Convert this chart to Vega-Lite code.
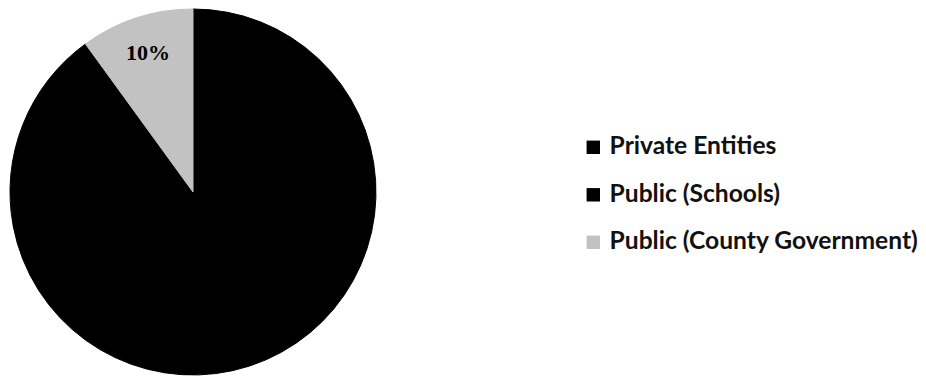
{
  "$schema": "https://vega.github.io/schema/vega-lite/v6.json",
  "width": 386,
  "height": 374,
  "autosize": {"type": "none"},
  "padding": {"left": 0, "top": 5, "right": 540, "bottom": 0},
  "background": "white",
  "data": {
    "values": [
      {"category": "Private Entities", "share": 72, "label": ""},
      {"category": "Public (Schools)", "share": 18, "label": ""},
      {"category": "Public (County Government)", "share": 10, "label": "10%"}
    ]
  },
  "encoding": {
    "theta": {"field": "share", "type": "quantitative", "stack": true},
    "order": {"field": "share", "type": "quantitative", "sort": "descending"}
  },
  "layer": [
    {
      "mark": {"type": "arc", "outerRadius": 183, "strokeWidth": 1},
      "encoding": {
        "stroke": {
          "field": "category",
          "type": "nominal",
          "scale": {
            "domain": ["Private Entities", "Public (Schools)", "Public (County Government)"],
            "range": ["#000000", "#000000", "#c2c2c2"]
          },
          "legend": null
        },
        "color": {
          "field": "category",
          "type": "nominal",
          "sort": ["Private Entities", "Public (Schools)", "Public (County Government)"],
          "scale": {
            "domain": ["Private Entities", "Public (Schools)", "Public (County Government)"],
            "range": ["#000000", "#000000", "#c2c2c2"]
          },
          "legend": {
            "title": null,
            "orient": "none",
            "legendX": 581,
            "legendY": 130,
            "padding": 0,
            "symbolType": "square",
            "symbolSize": 180,
            "symbolStrokeWidth": 0,
            "labelFont": "Lato",
            "labelFontWeight": "bold",
            "labelFontSize": 24.6,
            "labelColor": "#111111",
            "labelOffset": 4,
            "labelLimit": 400,
            "rowPadding": 22.5
          }
        }
      }
    },
    {
      "mark": {"type": "text", "radius": 146, "font": "Liberation Serif", "fontWeight": "bold", "fontSize": 22, "color": "#000000"},
      "encoding": {"text": {"field": "label", "type": "nominal"}}
    }
  ],
  "config": {"view": {"stroke": null}}
}
